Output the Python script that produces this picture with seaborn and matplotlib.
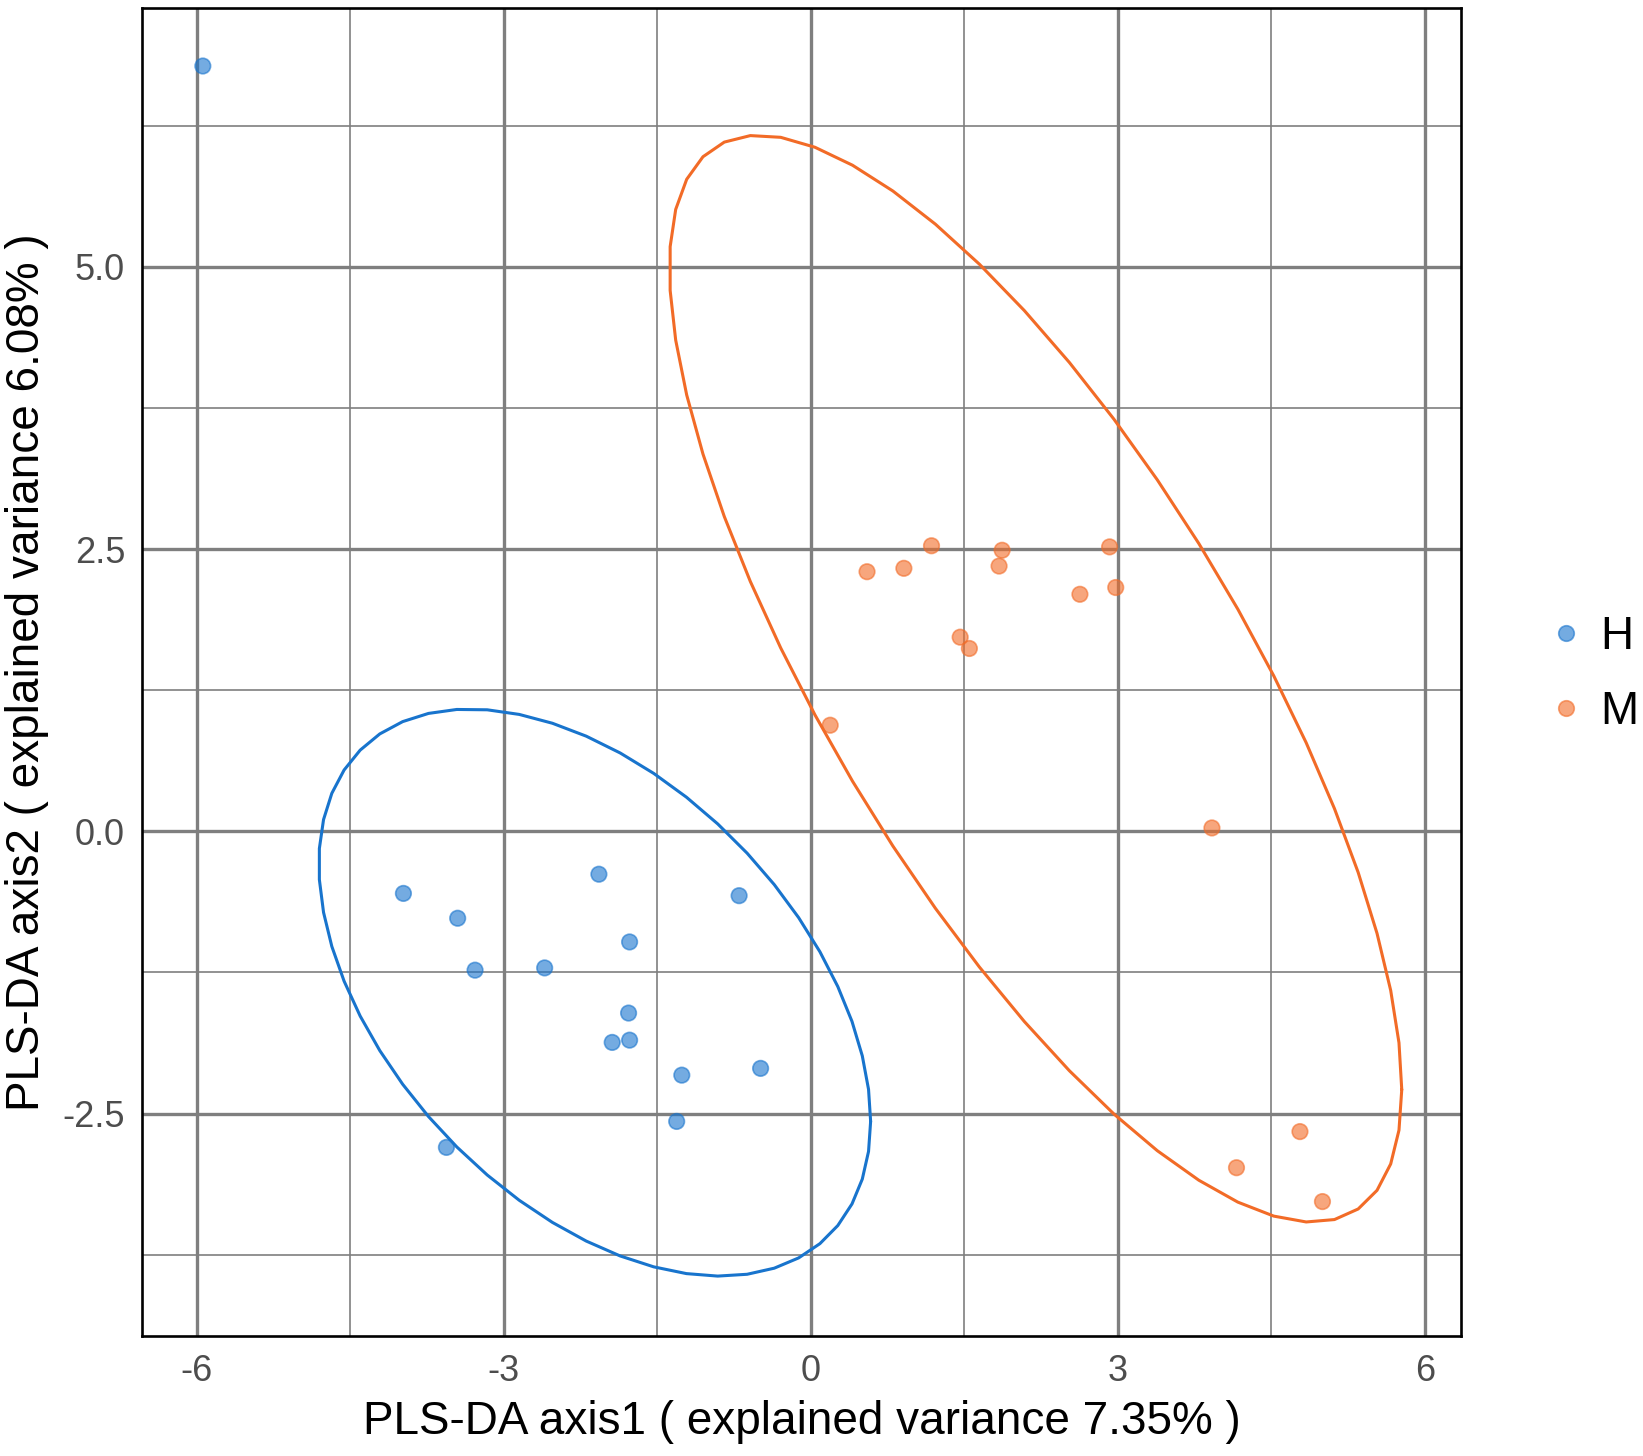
import numpy as np
import pandas as pd
import matplotlib
matplotlib.use("Agg")
import matplotlib.pyplot as plt
import seaborn as sns

# sample scores
h_x = [-5.94, -3.98, -3.45, -3.28, -2.60, -2.07, -1.77, -1.78, -1.94, -1.77, -1.26, -0.70, -0.49, -1.31, -3.56]
h_y = [6.78, -0.55, -0.77, -1.23, -1.21, -0.38, -0.98, -1.61, -1.87, -1.85, -2.16, -0.57, -2.10, -2.57, -2.80]
m_x = [0.55, 0.91, 1.18, 1.87, 1.84, 2.92, 2.98, 2.63, 1.46, 1.55, 0.19, 3.92, 4.78, 4.16, 5.00]
m_y = [2.30, 2.33, 2.53, 2.49, 2.35, 2.52, 2.16, 2.10, 1.72, 1.62, 0.94, 0.03, -2.66, -2.98, -3.28]
groups = ["H", "M"]
colors = {"H": "#1874CD", "M": "#F26B27"}

x_label = "PLS-DA axis1 ( explained variance 7.35% )"
y_label = "PLS-DA axis2 ( explained variance 6.08% )"


def cov_trob(xy, nu=5, maxit=25, tol=0.01):
    # t-distribution robust covariance (like MASS::cov.trob)
    n, p = xy.shape
    loc = xy.mean(axis=0)
    w = np.ones(n)
    for _ in range(maxit):
        w0 = w
        X = xy - loc
        _, d, vt = np.linalg.svd(np.sqrt(w / w.sum())[:, None] * X, full_matrices=False)
        wX = X @ vt.T @ np.diag(1 / d)
        Q = (wX ** 2).sum(axis=1)
        w = (nu + p) / (nu + Q)
        loc = (w[:, None] * xy).sum(axis=0) / w.sum()
        if np.all(np.abs(w - w0) < tol):
            break
    sx = np.sqrt(w)[:, None] * X
    return loc, sx.T @ sx / n


def ellipse_path(xy, level=0.95, segments=51):
    center, shape = cov_trob(xy)
    dfd = len(xy) - 1
    qf = dfd / 2 * ((1 - level) ** (-2 / dfd) - 1)
    radius = np.sqrt(2 * qf)
    ang = np.arange(segments + 1) * 2 * np.pi / segments
    circle = np.column_stack([np.cos(ang), np.sin(ang)])
    L = np.linalg.cholesky(shape)
    return center + radius * circle @ L.T


df = pd.DataFrame({
    "x": h_x + m_x,
    "y": h_y + m_y,
    "group": ["H"] * len(h_x) + ["M"] * len(m_x),
})

sns.set_theme(style="white")
plt.rcParams["font.family"] = ["Liberation Sans", "DejaVu Sans"]

fig = plt.figure(figsize=(16.43, 14.56), dpi=100)
ax = fig.add_axes([0.0867, 0.0821, 0.8023, 0.9121])

# grid
for v in [-4.5, -1.5, 1.5, 4.5]:
    ax.axvline(v, color="#7F7F7F", lw=1.2, zorder=0)
for v in [-3.75, -1.25, 1.25, 3.75, 6.25]:
    ax.axhline(v, color="#7F7F7F", lw=1.2, zorder=0)
for v in [-6, -3, 0, 3, 6]:
    ax.axvline(v, color="#7F7F7F", lw=2.4, zorder=0)
for v in [-2.5, 0, 2.5, 5.0]:
    ax.axhline(v, color="#7F7F7F", lw=2.4, zorder=0)

for g in groups:
    sub = df[df["group"] == g]
    path = ellipse_path(sub[["x", "y"]].to_numpy())
    ax.plot(path[:, 0], path[:, 1], color=colors[g], lw=2.2, zorder=2)

sns.scatterplot(data=df, x="x", y="y", hue="group", hue_order=groups, palette=colors,
                s=125, alpha=0.6, edgecolor=None, linewidth=1.2, ax=ax, zorder=3)
for coll in ax.collections:
    fc = coll.get_facecolors()
    if len(fc):
        ec = fc.copy()
        ec[:, 3] = 0.75
        coll.set_edgecolors(ec)

ax.set_xlim(-6.53, 6.35)
ax.set_ylim(-4.475, 7.29)
ax.set_xticks([-6, -3, 0, 3, 6])
ax.set_xticklabels(["-6", "-3", "0", "3", "6"])
ax.set_yticks([-2.5, 0, 2.5, 5.0])
ax.set_yticklabels(["-2.5", "0.0", "2.5", "5.0"])
ax.tick_params(axis="both", direction="out", length=7.5, width=2.2, color="#333333",
               labelsize=26, labelcolor="#4D4D4D", pad=5)
for sp in ax.spines.values():
    sp.set_color("black")
    sp.set_linewidth(1.9)
ax.set_xlabel(x_label, fontsize=33, color="black", labelpad=8)
ax.set_ylabel(y_label, fontsize=33, color="black", labelpad=10)

handles, labels = ax.get_legend_handles_labels()
ax.get_legend().remove()
leg = fig.legend(handles, labels, loc="center left", bbox_to_anchor=(0.917, 0.537),
                 frameon=False, fontsize=33, handlelength=0.8, handletextpad=0.34,
                 labelspacing=0.68, markerscale=1.0)
for t in leg.get_texts():
    t.set_color("black")

fig.savefig("out.png", dpi=100)
